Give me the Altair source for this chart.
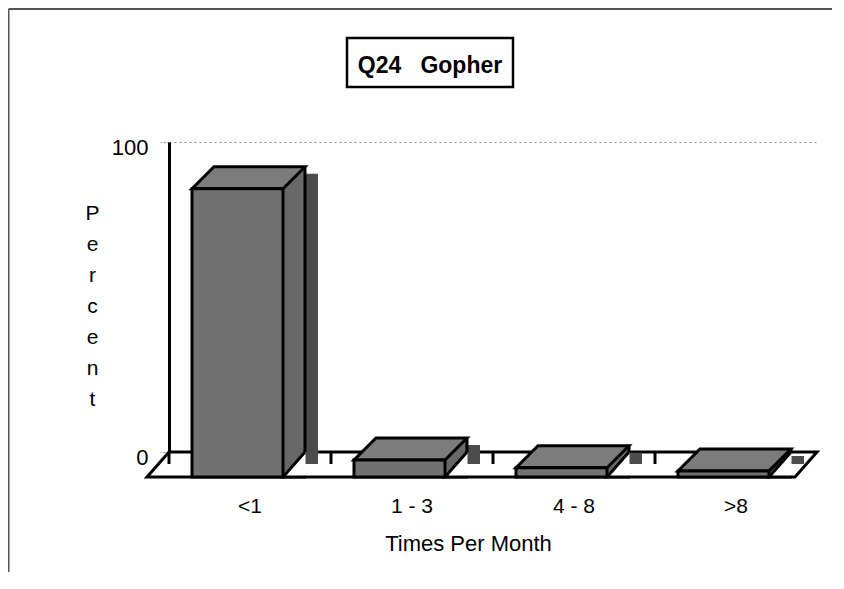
import altair as alt
import pandas as pd

# ---- data ----
categories = ["<1", "1 - 3", "4 - 8", ">8"]
percents = [92, 4.5, 2, 1]
chart_title = "Q24\u00a0\u00a0\u00a0Gopher"
x_title = "Times Per Month"
y_title = list("Percent")
y_ticks = [0, 100]

df = pd.DataFrame({"cat": categories, "val": percents})
one = pd.DataFrame({"k": [0]})

FONT = "Liberation Sans"
FRONT = "#727272"
TOP = "#7c7c7c"
SIDE = "#686868"
SHADOW = "#4c4c4c"

xs = alt.Scale(domain=categories, paddingInner=0, paddingOuter=0)
ys = alt.Scale(domain=[0, 100], nice=False, zero=True)

xaxis = alt.Axis(
    domain=False, ticks=False, tickSize=0, labelAngle=0,
    labelFont=FONT, labelFontSize=21, labelColor="black",
    labelPadding=60, labelBaseline="alphabetic",
    title=x_title, titleFont=FONT, titleFontSize=22, titleFontWeight="normal",
    titleColor="black", titleX=299, titleY=98, titleAlign="center",
    titleBaseline="alphabetic",
)
yaxis = alt.Axis(
    values=y_ticks, grid=True, gridDash=[2, 3], gridColor="#8a8a8a", gridWidth=1,
    domainColor="black", domainWidth=3, tickSize=9, tickColor="#8a8a8a",
    tickDash=[2, 2], labelFont=FONT, labelFontSize=22, labelColor="black",
    labelPadding=12, labelBaseline="alphabetic", labelOffset=12,
    title=y_title, titleAngle=0, titleX=-77, titleY=77, titleAlign="center",
    titleBaseline="alphabetic", titleLineHeight=31, titleFont=FONT,
    titleFontSize=21, titleFontWeight="normal", titleColor="black",
)

X = alt.X("cat:N", scale=xs, sort=categories, axis=xaxis)
Y = alt.Y("val:Q", scale=ys, axis=yaxis)
Y0 = alt.datum(0)

frame_top = alt.Chart(one).mark_rule(color="#555555", strokeWidth=2).encode(
    x=alt.value(-160.5), x2=alt.value(680), y=alt.value(-133))
frame_left = alt.Chart(one).mark_rule(color="#555555", strokeWidth=2).encode(
    x=alt.value(-160.5), y=alt.value(-133), y2=alt.value(440))

title_box = alt.Chart(one).mark_rect(fill="white", stroke="black", strokeWidth=2.5).encode(
    x=alt.value(178), x2=alt.value(344), y=alt.value(-104), y2=alt.value(-55))
title_text = alt.Chart(one).mark_text(
    text=chart_title, font=FONT, fontSize=23, fontWeight="bold",
    align="center", baseline="alphabetic", color="black").encode(
    x=alt.value(261), y=alt.value(-69))

floor = alt.Chart(one).mark_point(
    shape="M0,0L648,0L626,25L-22,25Z", size=4, filled=False,
    stroke="black", strokeWidth=3, opacity=1).encode(x=alt.value(0), y=Y0)

floor_ticks = alt.Chart(df).mark_rule(color="black", strokeWidth=3, y2Offset=12).encode(
    x=alt.X("cat:N", scale=xs, sort=categories, bandPosition=0, axis=xaxis),
    y=Y0, y2=Y0)

shadow = alt.Chart(df).mark_bar(width=91, xOffset=22.5, yOffset=7, y2Offset=12,
                                color=SHADOW).encode(x=X, y=Y, y2=Y0)
side = alt.Chart(df).mark_bar(width=22, xOffset=44, y2Offset=25,
                              color=SIDE).encode(x=X, y=Y, y2=Y0)
top = alt.Chart(df).mark_point(
    shape="M-36,0L55,0L33,22L-58,22Z", size=4, filled=True, fill=TOP,
    stroke="black", strokeWidth=3, opacity=1).encode(x=X, y=Y)
floor_patch = alt.Chart(df).mark_point(
    shape="M55.5,-0.5L55.5,25L32.5,25Z", size=4, filled=True, fill="white",
    strokeWidth=0, opacity=1).encode(x=X, y=Y0)
front = alt.Chart(df).mark_bar(width=91, xOffset=-12.5, yOffset=22, y2Offset=25,
                               fill=FRONT, stroke="black", strokeWidth=3).encode(
    x=X, y=Y, y2=Y0)
edge = alt.Chart(df).mark_rule(xOffset=55, color="black", strokeWidth=3).encode(
    x=X, y=Y, y2=Y0)
diag = alt.Chart(df).mark_point(
    shape="M55,0L33,25L56,25", size=4, filled=False, stroke="black",
    strokeWidth=3, opacity=1).encode(x=X, y=Y0)

chart = alt.layer(
    frame_top, frame_left, title_box, title_text, floor, floor_ticks,
    shadow, side, top, floor_patch, front, edge, diag,
).properties(
    width=648, height=310,
    padding={"left": 161, "top": 134, "right": 15, "bottom": 120},
    autosize=alt.AutoSizeParams(type="none"),
    background="white",
).configure_view(stroke=None)

chart.save("out.html", embed_options={"renderer": "svg", "actions": False})
